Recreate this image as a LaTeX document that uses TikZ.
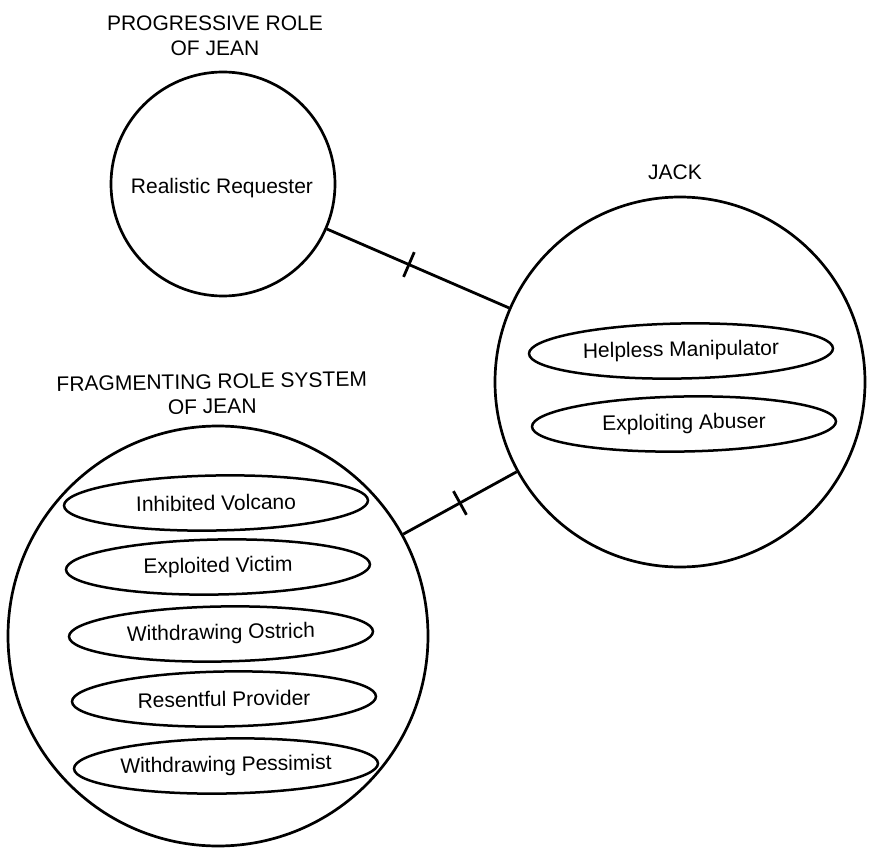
\documentclass[tikz,border=0pt]{standalone}
\usepackage{fontspec}
\setmainfont{Liberation Sans}
\usetikzlibrary{shapes.geometric}
\begin{document}
\begin{tikzpicture}[x=1pt,y=-1pt,
  every node/.style={font=\fontsize{21}{25}\selectfont},
  role/.style={draw, line width=2.7pt, circle, inner sep=0pt},
  part/.style={draw, line width=2.5pt, ellipse, minimum width=304pt, minimum height=55pt, inner sep=0pt, rotate=1},
  title/.style={align=center},
  link/.style={line width=2.8pt},
  tickmark/.style={draw, line width=2.8pt, minimum width=0pt, minimum height=27pt, inner sep=0pt, sloped}
]
\useasboundingbox (0,0) rectangle (871,848);

% circles
\node[role, minimum size=224pt] (prog) at (223,184) {};
\node[role, minimum size=370pt] (jack) at (680,382) {};
\node[role, minimum size=420pt] (frag) at (218,636) {};

% titles
\node[title] (tprog) at (215,36) {PROGRESSIVE ROLE\\OF JEAN};
\node[title] (tjack) at (675,172) {JACK};
\node[title, rotate=1] (tfrag) at (212,394) {FRAGMENTING ROLE SYSTEM\\OF JEAN};

% inner text
\node (rr) at (222,188) {Realistic Requester};

% Jack's roles
\node[part] (hm) at (681,351) {Helpless Manipulator};
\node[part] (ea) at (684,424) {Exploiting Abuser};

% Jean's fragmenting roles
\node[part] (iv) at (216,503) {Inhibited Volcano};
\node[part] (ev) at (218,567) {Exploited Victim};
\node[part] (wo) at (221,634) {Withdrawing Ostrich};
\node[part] (rp) at (224,699) {Resentful Provider};
\node[part] (wp) at (226,766) {Withdrawing Pessimist};

% connectors
\draw[link] (prog) -- node[tickmark, pos=0.45] (k1) {} (jack);
\draw[link] (frag) -- node[tickmark, pos=0.5] (k2) {} (jack);
\end{tikzpicture}
\end{document}
